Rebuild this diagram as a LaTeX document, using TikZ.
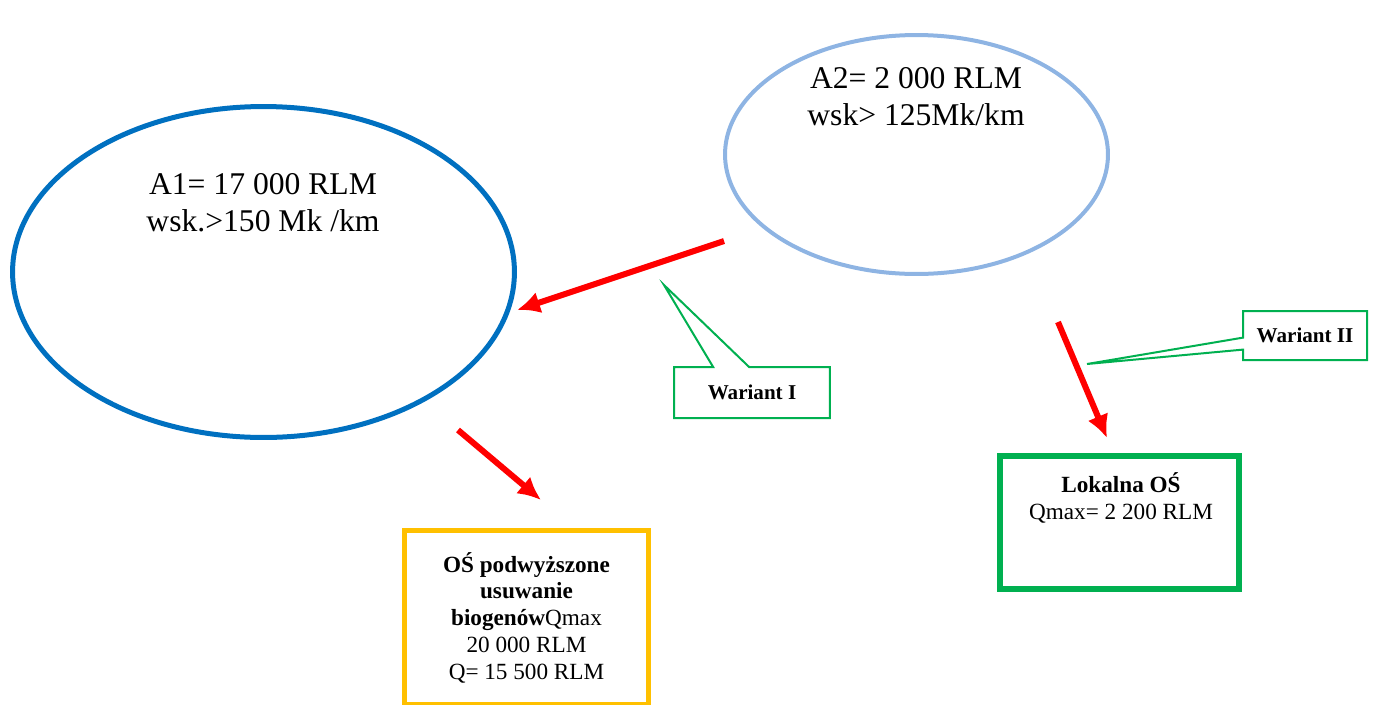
\documentclass[tikz,border=0pt]{standalone}
\usepackage{fontspec}
\setmainfont{Liberation Serif}
\usepackage{xcolor}
\usepackage{tikz}
\usetikzlibrary{arrows.meta,positioning,shapes.geometric,shapes.callouts}

\definecolor{zoneblue}{HTML}{0070C0}
\definecolor{zonelight}{HTML}{8EB4E3}
\definecolor{plantorange}{HTML}{FFC000}
\definecolor{plantgreen}{HTML}{00B050}

\begin{document}
\begin{tikzpicture}[
  x=0.02cm, y=-0.02cm,
  zone/.style={draw, ellipse, inner sep=0pt},
  zonetext/.style={align=center, font=\fontsize{18}{21}\selectfont},
  plant/.style={draw, line width=0.11cm, align=center, inner sep=0pt, font=\fontsize{13.2}{15.3}\selectfont},
  variant/.style={rectangle callout, draw=plantgreen, line width=0.04cm, fill=white, inner sep=0pt, font=\bfseries\fontsize{12}{14}\selectfont},
  flow/.style={draw=red, line width=0.12cm, -{Latex[length=0.46cm,width=0.44cm]}}
]
  \useasboundingbox (0,0) rectangle (1400,704);

  \node[zone, draw=zoneblue, line width=0.1cm, minimum width=10.04cm, minimum height=6.62cm] (a1) at (263.5,272) {};
  \node[zonetext] (a1txt) at (263,203) {A1= 17 000 RLM\\wsk.>150 Mk /km};

  \node[zone, draw=zonelight, line width=0.08cm, minimum width=7.66cm, minimum height=4.78cm] (a2) at (916.5,154.5) {};
  \node[zonetext] (a2txt) at (916,97) {A2= 2 000 RLM\\wsk> 125Mk/km};

  \node[plant, draw=plantorange, minimum width=4.88cm, minimum height=3.49cm] (osup) at (526.5,617.75)
    {\textbf{OŚ podwyższone}\\\textbf{usuwanie}\\\textbf{biogenów}Qmax\\20 000 RLM\\Q= 15 500 RLM};

  \node[plant, draw=plantgreen, minimum width=4.78cm, minimum height=2.66cm] (oslok) at (1119.5,522.5) {};
  \node[align=center, font=\fontsize{13.2}{15.3}\selectfont] (osloktxt) at (1121,498) {\textbf{Lokalna OŚ}\\Qmax= 2 200 RLM};

  % callouts
  \coordinate (tip1) at (664,285);
  \coordinate (tip2) at (1087,364);
  \node[variant, minimum width=3.12cm, minimum height=1.02cm, callout pointer width=0.72cm,
        callout absolute pointer={(tip1)}] (war1) at (752,392.5) {Wariant I};
  \node[variant, minimum width=2.48cm, minimum height=0.98cm, callout pointer width=0.24cm,
        callout absolute pointer={(tip2)}] (war2) at (1305,335.5) {Wariant II};

  % red arrows
  \coordinate (f1s) at (724,241);
  \coordinate (f1e) at (517,310);
  \coordinate (f2s) at (458,430);
  \coordinate (f2e) at (541,500);
  \coordinate (f3s) at (1058,322);
  \coordinate (f3e) at (1107,438);
  \draw[flow] (f1s) -- (f1e);
  \draw[flow] (f2s) -- (f2e);
  \draw[flow] (f3s) -- (f3e);
\end{tikzpicture}
\end{document}
